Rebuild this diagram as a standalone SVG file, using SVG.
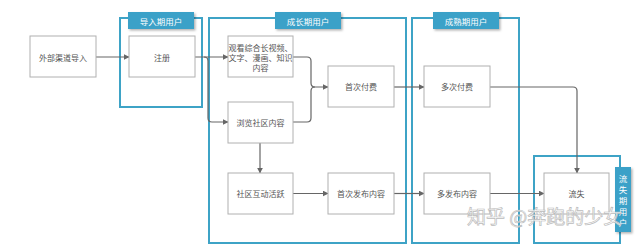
<svg xmlns="http://www.w3.org/2000/svg" width="640" height="245" viewBox="0 0 640 245">
<defs>
<style>
.frame{fill:none;stroke:#3ea3c6;stroke-width:2}
.tab{fill:#3aa1c8}
.tabt{fill:#fff;font-family:"Noto Sans CJK SC","Liberation Sans",sans-serif;font-size:8.5px;text-anchor:middle;dominant-baseline:central}
.vt{fill:#fff;font-family:"Noto Sans CJK SC",sans-serif;font-size:8.5px;text-anchor:middle;writing-mode:vertical-rl;letter-spacing:2.5px}
.node rect{fill:#fff;stroke:#b0b0b0;stroke-width:1}
.node text{fill:#555;font-family:"Noto Sans CJK SC","Liberation Sans",sans-serif;font-size:8px;text-anchor:middle;dominant-baseline:central}
.conn path{fill:none;stroke:#666;stroke-width:1.2}
.wm{font-family:"Noto Sans CJK SC",sans-serif;font-size:19px;fill:#fff;fill-opacity:0.75;stroke:#bbb;stroke-width:0.7}
</style>
<filter id="sh" x="-10%" y="-10%" width="130%" height="140%"><feDropShadow dx="1.5" dy="1.5" stdDeviation="1" flood-color="#000" flood-opacity="0.3"/></filter>
<marker id="ar" viewBox="0 0 10 10" refX="9" refY="5" markerWidth="6" markerHeight="6" orient="auto" markerUnits="userSpaceOnUse"><path d="M0,0 L10,5 L0,10 z" fill="#666"/></marker>
</defs>
<rect width="640" height="245" fill="#fff"/>
<g id="stage-import">
<rect class="frame" x="120" y="18" width="82" height="89"/>
<rect class="tab" x="128" y="12" width="66" height="17" filter="url(#sh)"/>
<text class="tabt" x="161" y="20.5">导入期用户</text>
</g>
<g id="stage-growth">
<rect class="frame" x="209" y="18" width="197" height="225"/>
<rect class="tab" x="275" y="12" width="66" height="17" filter="url(#sh)"/>
<text class="tabt" x="308" y="20.5">成长期用户</text>
</g>
<g id="stage-mature">
<rect class="frame" x="412" y="18" width="107" height="225"/>
<rect class="tab" x="433" y="12" width="66" height="17" filter="url(#sh)"/>
<text class="tabt" x="466" y="20.5">成熟期用户</text>
</g>
<g id="stage-lost">
<rect class="frame" x="534" y="156" width="86" height="87"/>
<rect class="tab" x="615" y="167" width="16" height="65" filter="url(#sh)"/>
<text class="vt" x="623" y="202">流失期用户</text>
</g>
<g id="connectors" class="conn">
<path d="M96,57 H129" marker-end="url(#ar)"/>
<path d="M195,57 H228" marker-end="url(#ar)"/>
<path d="M204,57 Q208,57 208,61 V118 Q208,122 212,122 H228" marker-end="url(#ar)"/>
<path d="M293,57 H307 Q311,57 311,61 V83 Q311,87 315,87 H328" marker-end="url(#ar)"/>
<path d="M293,122 H307 Q311,122 311,118 V91 Q311,87 315,87"/>
<path d="M260,143 V173" marker-end="url(#ar)"/>
<path d="M293,193.5 H328" marker-end="url(#ar)"/>
<path d="M394,87 H424" marker-end="url(#ar)"/>
<path d="M394,193.5 H424" marker-end="url(#ar)"/>
<path d="M490,193.5 H544" marker-end="url(#ar)"/>
<path d="M490,87 H573 Q577,87 577,91 V173" marker-end="url(#ar)"/>
</g>
<g id="n-external" class="node"><rect x="30" y="36" width="66" height="41"/><text x="63" y="57">外部渠道导入</text></g>
<g id="n-register" class="node"><rect x="129" y="36" width="66" height="41"/><text x="162" y="57">注册</text></g>
<g id="n-watch" class="node"><rect x="228" y="36" width="65" height="41"/><text x="260.5" y="47">观看综合长视频、</text><text x="260.5" y="57">文字、漫画、知识</text><text x="260.5" y="67">内容</text></g>
<g id="n-browse" class="node"><rect x="228" y="102" width="65" height="41"/><text x="260.5" y="122.5">浏览社区内容</text></g>
<g id="n-interact" class="node"><rect x="228" y="173" width="65" height="41"/><text x="260.5" y="193.5">社区互动活跃</text></g>
<g id="n-firstpay" class="node"><rect x="328" y="66" width="66" height="41"/><text x="361" y="86.5">首次付费</text></g>
<g id="n-firstpost" class="node"><rect x="328" y="173" width="66" height="41"/><text x="361" y="193.5">首次发布内容</text></g>
<g id="n-multipay" class="node"><rect x="424" y="66" width="66" height="41"/><text x="457" y="86.5">多次付费</text></g>
<g id="n-multipost" class="node"><rect x="424" y="173" width="66" height="41"/><text x="457" y="193.5">多发布内容</text></g>
<g id="n-lost" class="node"><rect x="544" y="173" width="65" height="41"/><text x="576.5" y="193.5">流失</text></g>
<text class="wm" x="467" y="224">知乎 @奔跑的少女</text>
</svg>
